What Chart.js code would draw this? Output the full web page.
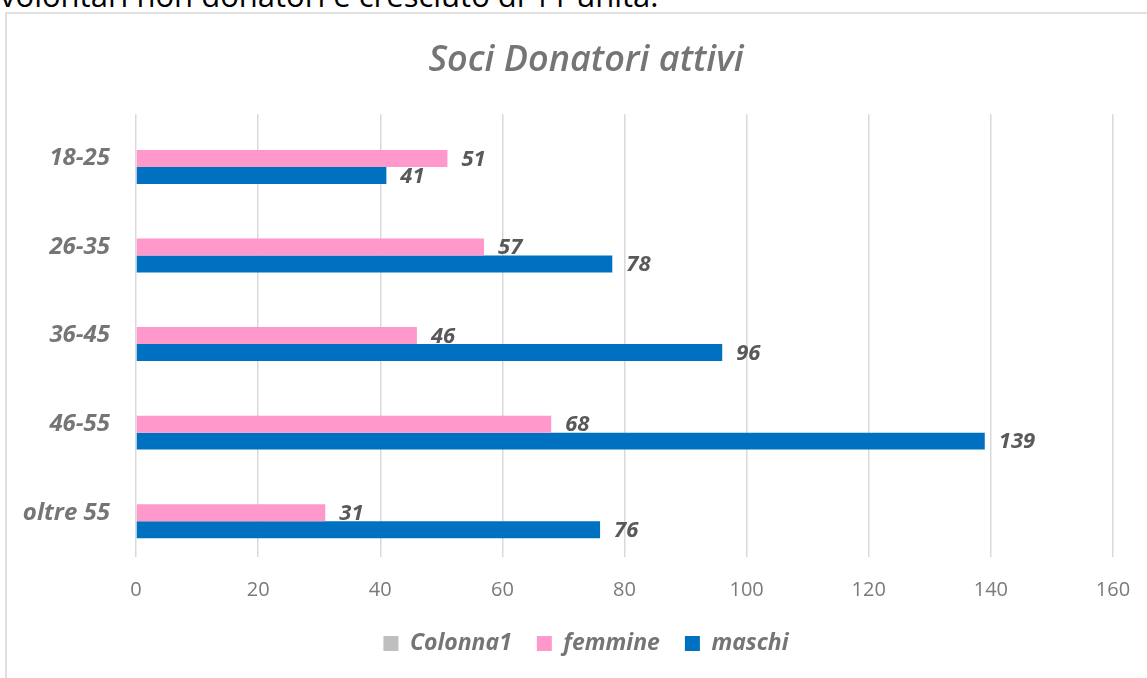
<!DOCTYPE html>
<html>
<head>
<meta charset="utf-8">
<script src="https://cdn.jsdelivr.net/npm/chart.js@4/dist/chart.umd.min.js"></script>
<style>
  html, body { margin: 0; padding: 0; width: 1147px; height: 678px; overflow: hidden; background: #fff; }
  #topText { position: absolute; left: 0; top: -26px; font: 31px "Open Sans", sans-serif; color: #000; white-space: nowrap; }
  #frame { position: absolute; left: 5px; top: 12px; width: 1170px; height: 700px; border: 2px solid #e0e0e0; box-sizing: border-box; }
  #wrap { position: absolute; left: 0; top: 0; width: 1170px; height: 678px; }
</style>
</head>
<body>
<div id="topText">volontari non donatori è cresciuto di 11 unità.</div>
<div id="frame"></div>
<div id="wrap"><canvas id="c" width="1170" height="678"></canvas></div>
<script>
const categories = ["18-25", "26-35", "36-45", "46-55", "oltre 55"];
const colonna1 = [null, null, null, null, null];
const femmine = [51, 57, 46, 68, 31];
const maschi = [41, 78, 96, 139, 76];
const xTicks = [0, 20, 40, 60, 80, 100, 120, 140, 160];

const FONT = '"Open Sans", sans-serif';

const valueLabels = {
  id: 'valueLabels',
  afterDatasetsDraw(chart) {
    const ctx = chart.ctx;
    ctx.save();
    ctx.font = 'italic bold 22px ' + FONT;
    ctx.fillStyle = '#595959';
    ctx.textAlign = 'left';
    ctx.textBaseline = 'middle';
    chart.data.datasets.forEach((ds, i) => {
      const meta = chart.getDatasetMeta(i);
      meta.data.forEach((el, j) => {
        const v = ds.data[j];
        if (v === null || v === undefined) return;
        ctx.fillText(String(v), el.x + 14, el.y + 1);
      });
    });
    ctx.restore();
  }
};

new Chart(document.getElementById('c'), {
  type: 'bar',
  data: {
    labels: categories,
    datasets: [
      { label: 'Colonna1', data: colonna1, backgroundColor: '#bfbfbf' },
      { label: 'femmine', data: femmine, backgroundColor: '#ff99cc' },
      { label: 'maschi', data: maschi, backgroundColor: '#0070c0' }
    ]
  },
  options: {
    indexAxis: 'y',
    responsive: false,
    animation: false,
    devicePixelRatio: 1,
    layout: { padding: { left: 20, right: 18, top: 0, bottom: 13 } },
    datasets: { bar: { categoryPercentage: 0.575, barPercentage: 1.0 } },
    plugins: {
      title: {
        display: true,
        text: 'Soci Donatori attivi',
        color: '#757575',
        font: { family: FONT, size: 36, style: 'italic', weight: '600', lineHeight: 1.2 },
        padding: { top: 39, bottom: 32 }
      },
      legend: {
        position: 'bottom',
        labels: {
          boxWidth: 15, boxHeight: 15, padding: 25,
          color: '#757575',
          font: { family: FONT, size: 23, style: 'italic', weight: 'bold' }
        }
      },
      tooltip: { enabled: false }
    },
    scales: {
      x: {
        min: 0, max: 160,
        afterBuildTicks(scale) { scale.ticks = xTicks.map(v => ({ value: v })); },
        afterFit(scale) { scale.height = 50; },
        grid: { color: '#d9d9d9', lineWidth: 1.5, drawTicks: false },
        border: { display: false },
        ticks: { color: '#7a7a7a', padding: 21, font: { family: FONT, size: 20 } }
      },
      y: {
        afterFit(scale) { scale.width = 116; },
        grid: { display: false, drawTicks: false },
        border: { display: false },
        ticks: { color: '#757575', padding: 26, font: { family: FONT, size: 24, style: 'italic', weight: 'bold' } }
      },
      ySpacer: {
        type: 'category',
        position: 'right',
        display: true,
        afterFit(scale) { scale.width = 39; },
        grid: { display: false, drawTicks: false },
        border: { display: false },
        ticks: { display: false }
      }
    }
  },
  plugins: [valueLabels]
});
</script>
</body>
</html>
